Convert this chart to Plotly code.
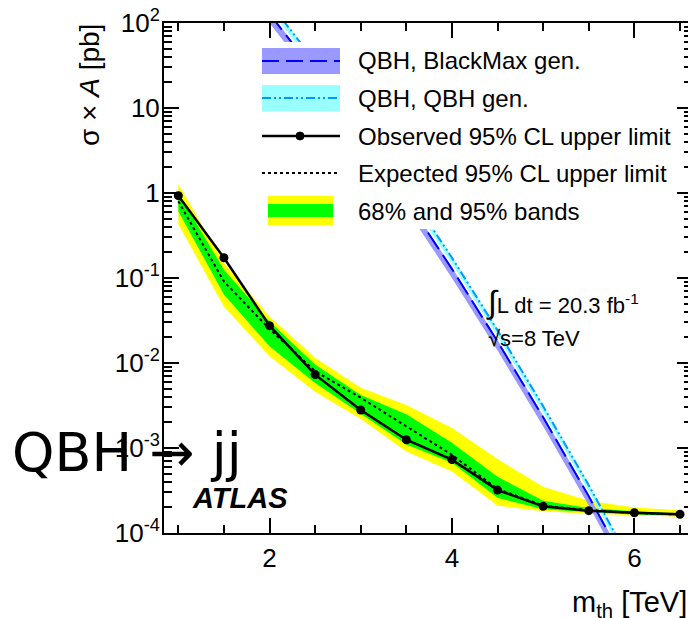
import plotly.graph_objects as go

# ---------------- data ----------------
mass = [1.0, 1.5, 2.0, 2.5, 3.0, 3.5, 4.0, 4.5, 5.0, 5.5, 6.0, 6.5]
observed = [0.93, 0.173, 0.0275, 0.0073, 0.0028, 0.00125, 0.00073, 0.00032,
            0.000206, 0.000183, 0.000173, 0.000166]
expected = [0.80, 0.091, 0.0251, 0.0080, 0.0039, 0.0018, 0.00083, 0.00033,
            0.00021, 0.000185, 0.000172, 0.000165]
exp_plus1 = [1.0, 0.125, 0.0308, 0.0096, 0.0042, 0.0025, 0.00115, 0.00046,
             0.00024, 0.000197, 0.00018, 0.00017]
exp_minus1 = [0.61, 0.064, 0.0157, 0.0058, 0.0025, 0.0011, 0.00067, 0.00026,
              0.00019, 0.000175, 0.000165, 0.00016]
exp_plus2 = [1.28, 0.150, 0.0353, 0.0115, 0.0051, 0.0032, 0.00172, 0.00074,
             0.00035, 0.00024, 0.00020, 0.000185]
exp_minus2 = [0.43, 0.046, 0.0120, 0.0046, 0.0022, 0.00091, 0.00053, 0.00021,
              0.00018, 0.000168, 0.00016, 0.000155]

theory_mass = [2.0, 2.5, 3.0, 3.5, 4.0, 4.5, 5.0, 5.5, 6.0]
blackmax = [128, 26, 4.9, 0.83, 0.128, 0.0179, 0.0023, 2.7e-4, 2.8e-5]
blackmax_low = [100, 20.3, 3.8, 0.65, 0.100, 0.0140, 0.0018, 2.1e-4, 2.2e-5]
blackmax_high = [133, 27, 5.1, 0.86, 0.133, 0.0186, 0.0024, 2.8e-4, 2.9e-5]
qbhgen = [173, 35.1, 6.6, 1.12, 0.173, 0.0242, 0.0031, 3.65e-4, 3.78e-5]
qbhgen_low = [147, 29.8, 5.6, 0.95, 0.147, 0.0206, 0.00264, 3.1e-4, 3.2e-5]
qbhgen_high = [178, 36.2, 6.8, 1.15, 0.178, 0.0249, 0.0032, 3.76e-4, 3.9e-5]

y_tick_vals = [1e-4, 1e-3, 1e-2, 1e-1, 1, 10, 100]
y_tick_text = ["10<sup>-4</sup>", "10<sup>-3</sup>", "10<sup>-2</sup>",
               "10<sup>-1</sup>", "1", "10", "10<sup>2</sup>"]
x_tick_vals = [2, 4, 6]
x_tick_text = ["2", "4", "6"]

legend_labels = ["QBH, BlackMax gen.", "QBH, QBH gen.",
                 "Observed 95% CL upper limit", "Expected 95% CL upper limit",
                 "68% and 95% bands"]

# ---------------- geometry ----------------
# the page body adds an 8 px margin, so the figure is made 8 px smaller
OFF = 8
FW, FH = 696 - OFF, 618 - OFF
L, T, W, H = 164, 23, 528, 510          # plot area in window pixels
FONT = "Liberation Sans, Arial, Helvetica, sans-serif"


def px(x):
    return (x - L) / W


def py(y):
    return 1 - (y - T) / H


def band(xs, lo, hi):
    return list(xs) + list(xs)[::-1], list(hi) + list(lo)[::-1]


fig = go.Figure()

bx, by = band(mass, exp_minus2, exp_plus2)
fig.add_trace(go.Scatter(x=bx, y=by, fill="toself", fillcolor="#ffff00",
                         line=dict(width=0), mode="lines", hoverinfo="skip"))
bx, by = band(mass, exp_minus1, exp_plus1)
fig.add_trace(go.Scatter(x=bx, y=by, fill="toself", fillcolor="#00ff00",
                         line=dict(width=0), mode="lines", hoverinfo="skip"))
fig.add_trace(go.Scatter(x=mass, y=expected, mode="lines",
                         line=dict(color="black", width=2, dash="dot")))

bx, by = band(theory_mass, blackmax_low, blackmax_high)
fig.add_trace(go.Scatter(x=bx, y=by, fill="toself", fillcolor="#9999ff",
                         line=dict(width=0), mode="lines", hoverinfo="skip"))
bx, by = band(theory_mass, qbhgen_low, qbhgen_high)
fig.add_trace(go.Scatter(x=bx, y=by, fill="toself", fillcolor="#99ffff",
                         line=dict(width=0), mode="lines", hoverinfo="skip"))
fig.add_trace(go.Scatter(x=theory_mass, y=blackmax, mode="lines",
                         line=dict(color="#0000ff", width=2, dash="20px,7px")))
fig.add_trace(go.Scatter(x=theory_mass, y=qbhgen, mode="lines",
                         line=dict(color="#0099ff", width=2,
                                   dash="9px,3px,2px,3px,2px,3px")))
fig.add_trace(go.Scatter(x=mass, y=observed, mode="lines+markers",
                         line=dict(color="black", width=2.5),
                         marker=dict(color="black", size=9)))

# ---------------- legend drawn by hand ----------------
shapes = []
shapes.append(dict(type="rect", xref="paper", yref="paper", layer="above",
                   x0=px(255), x1=px(676), y0=py(229), y1=py(42),
                   fillcolor="white", line=dict(width=0)))
shapes.append(dict(type="rect", xref="paper", yref="paper", layer="above",
                   x0=px(262), x1=px(340), y0=py(74), y1=py(48),
                   fillcolor="#9999ff", line=dict(width=0)))
shapes.append(dict(type="line", xref="paper", yref="paper", layer="above",
                   x0=px(262), x1=px(340), y0=py(61), y1=py(61),
                   line=dict(color="#0000ff", width=2, dash="17px,7px")))
shapes.append(dict(type="rect", xref="paper", yref="paper", layer="above",
                   x0=px(262), x1=px(340), y0=py(111.5), y1=py(85),
                   fillcolor="#99ffff", line=dict(width=0)))
shapes.append(dict(type="line", xref="paper", yref="paper", layer="above",
                   x0=px(262), x1=px(340), y0=py(98), y1=py(98),
                   line=dict(color="#0099ff", width=2,
                             dash="9px,3px,2px,3px,2px,3px")))
shapes.append(dict(type="line", xref="paper", yref="paper", layer="above",
                   x0=px(262), x1=px(340), y0=py(136), y1=py(136),
                   line=dict(color="black", width=2.5)))
shapes.append(dict(type="circle", xref="paper", yref="paper", layer="above",
                   x0=px(296), x1=px(304), y0=py(140), y1=py(132),
                   fillcolor="black", line=dict(color="black", width=1)))
shapes.append(dict(type="line", xref="paper", yref="paper", layer="above",
                   x0=px(262), x1=px(340), y0=py(173), y1=py(173),
                   line=dict(color="black", width=2, dash="dot")))
shapes.append(dict(type="rect", xref="paper", yref="paper", layer="above",
                   x0=px(268), x1=px(333), y0=py(225), y1=py(196),
                   fillcolor="#ffff00", line=dict(width=0)))
shapes.append(dict(type="rect", xref="paper", yref="paper", layer="above",
                   x0=px(268), x1=px(333), y0=py(217), y1=py(204),
                   fillcolor="#00ff00", line=dict(width=0)))

annotations = []
row_y = [61, 98, 136, 173, 211]
for lab, yy in zip(legend_labels, row_y):
    annotations.append(dict(text=lab, x=px(356), y=py(yy), xref="paper",
                            yref="paper", xanchor="left", yanchor="middle",
                            showarrow=False, font=dict(size=24, color="black")))

annotations += [
    dict(text="σ × <i>A</i> [pb]", textangle=-90, x=px(89), y=py(22),
         xref="paper", yref="paper", xanchor="center", yanchor="top",
         showarrow=False, font=dict(size=28, color="black")),
    dict(text="m<sub>th</sub> [TeV]", x=px(689), y=py(604), xref="paper",
         yref="paper", xanchor="right", yanchor="middle", showarrow=False,
         font=dict(size=29, color="black")),
    dict(text="<span style='font-size:32px'>∫</span>L dt = 20.3 fb<sup>-1</sup>",
         x=px(484), y=py(302), xref="paper", yref="paper", xanchor="left",
         yanchor="middle", showarrow=False, font=dict(size=22, color="black")),
    dict(text="√s=8 TeV",
         x=px(486), y=py(338), xref="paper", yref="paper", xanchor="left",
         yanchor="middle", showarrow=False, font=dict(size=22, color="black")),
    dict(text="<b><i>ATLAS</i></b>", x=px(190), y=py(498), xref="paper",
         yref="paper", xanchor="left", yanchor="middle", showarrow=False,
         font=dict(size=29, color="black")),
    dict(text="QBH → jj", x=px(10), y=py(452), xref="paper", yref="paper",
         xanchor="left", yanchor="middle", showarrow=False,
         font=dict(size=54, color="black", family="DejaVu Sans, sans-serif")),
]

y_minor = [k * 10.0 ** e for e in range(-4, 2) for k in range(2, 10)]
x_minor = [1.0, 1.5, 2.5, 3.0, 3.5, 4.5, 5.0, 5.5, 6.5]

axis_common = dict(showline=True, linecolor="black", linewidth=2,
                   mirror="allticks", ticks="inside", ticklen=15, tickwidth=1.5,
                   tickcolor="black", showgrid=False, zeroline=False,
                   ticklabeloverflow="allow",
                   tickfont=dict(size=26, color="black", family=FONT))

fig.update_layout(
    width=FW, height=FH,
    margin=dict(l=L - OFF, r=FW - (L - OFF) - W, t=T - OFF,
                b=FH - (T - OFF) - H, autoexpand=False),
    paper_bgcolor="white", plot_bgcolor="white",
    showlegend=False,
    font=dict(family=FONT, color="black"),
    xaxis=dict(range=[0.843, 6.632], tickmode="array", tickvals=x_tick_vals,
               ticktext=x_tick_text, ticklabelstandoff=1,
               minor=dict(tickmode="array", tickvals=x_minor, ticks="inside",
                          ticklen=8, tickwidth=1.5, tickcolor="black"),
               **axis_common),
    yaxis=dict(type="log", range=[-4, 2], tickmode="array",
               tickvals=y_tick_vals, ticktext=y_tick_text, ticklabelstandoff=-3,
               minor=dict(tickmode="array", tickvals=y_minor, ticks="inside",
                          ticklen=8, tickwidth=1.5, tickcolor="black"),
               **axis_common),
    shapes=shapes,
    annotations=annotations,
)

fig.write_html("out.html")
